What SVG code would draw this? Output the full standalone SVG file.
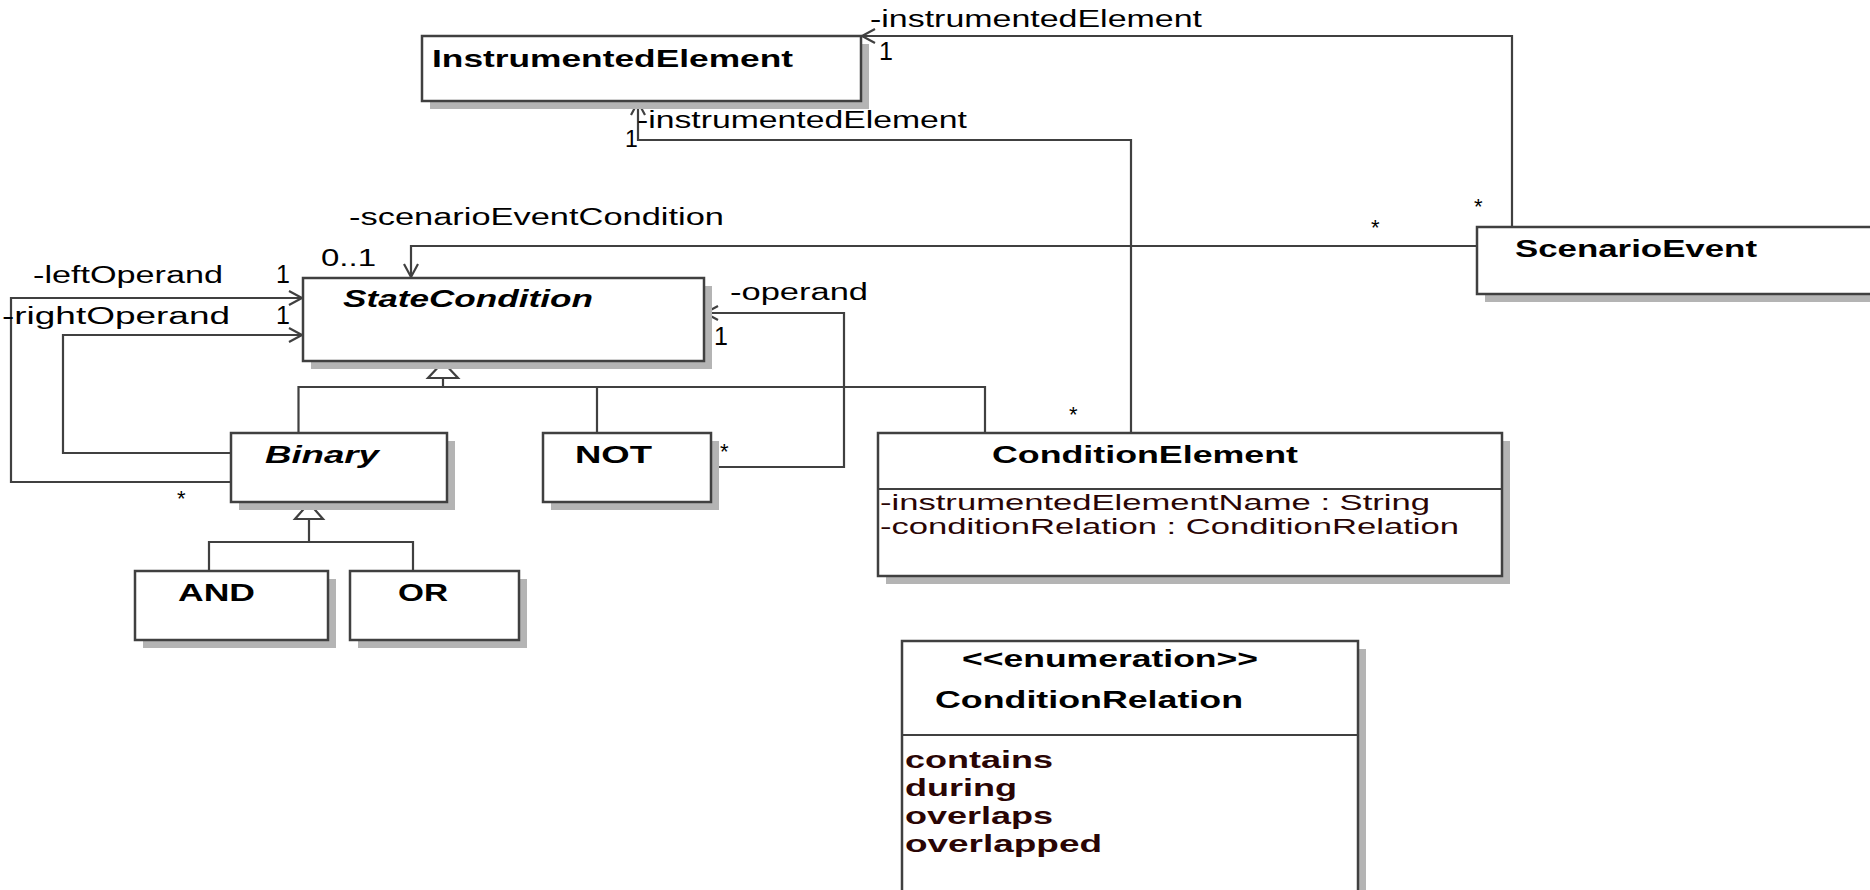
<svg xmlns="http://www.w3.org/2000/svg" width="1870" height="890" viewBox="0 0 1870 890">
<defs>
<style>
.box{fill:#fff;stroke:#404040;stroke-width:2.5}
.sh{fill:#b4b4b4}
.ln{fill:none;stroke:#404040;stroke-width:2.2}
.gen{fill:#fff;stroke:#404040;stroke-width:2.2}
.t{font-family:"Liberation Sans",Arial,sans-serif;font-size:23px;fill:#000}
.b{font-family:"Liberation Sans",Arial,sans-serif;font-size:23px;font-weight:bold;fill:#000}
.bi{font-style:italic}
.a{font-family:"Liberation Sans",Arial,sans-serif;font-size:22px;fill:#2a0505}
.lit{font-family:"Liberation Sans",Arial,sans-serif;font-size:23px;font-weight:bold;fill:#2a0505}
.st{font-family:"Liberation Sans",Arial,sans-serif;font-size:22px;fill:#000}
.one{font-family:"Liberation Sans",Arial,sans-serif;font-size:25px;fill:#000}
</style>
<marker id="arr" markerUnits="userSpaceOnUse" orient="auto" refX="0" refY="0" overflow="visible" markerWidth="14" markerHeight="14">
<path d="M-13,-7 L0,0 L-13,7" fill="none" stroke="#404040" stroke-width="2.2"/>
</marker>
</defs>
<rect width="1870" height="890" fill="#fff"/>

<g id="connectors">
<path class="ln" d="M1512,227 V36 H862" marker-end="url(#arr)"/>
<path class="ln" d="M1131,433 V140 H638 V102" marker-end="url(#arr)"/>
<path class="ln" d="M1477,246 H411 V277" marker-end="url(#arr)"/>
<path class="ln" d="M231,482 H11 V298 H302" marker-end="url(#arr)"/>
<path class="ln" d="M231,453 H63 V335 H302" marker-end="url(#arr)"/>
<path class="ln" d="M711,467 H844 V313 H705" marker-end="url(#arr)"/>
<path class="ln" d="M443,378 V387 M298.5,433 V387 H985 V433 M597,387 V433"/>
<polygon class="gen" points="443,362 428,378 458,378"/>
<path class="ln" d="M309,519 V542 M209,571 V542 H413 V571"/>
<polygon class="gen" points="309,503 295,519 323,519"/>
<text class="t" x="870" y="27" textLength="332" lengthAdjust="spacingAndGlyphs">-instrumentedElement</text>
<text class="one" x="879" y="60">1</text>
<text class="t" x="637" y="128" textLength="330" lengthAdjust="spacingAndGlyphs">-instrumentedElement</text>
<text class="t" x="625" y="147" font-size="21">1</text>
<text class="t" x="349" y="225" textLength="375" lengthAdjust="spacingAndGlyphs">-scenarioEventCondition</text>
<text class="t" x="321" y="266" textLength="55" lengthAdjust="spacingAndGlyphs">0..1</text>
<text class="t" x="33" y="283" textLength="190" lengthAdjust="spacingAndGlyphs">-leftOperand</text>
<text class="one" x="276" y="283">1</text>
<text class="t" x="2" y="324" textLength="228" lengthAdjust="spacingAndGlyphs">-rightOperand</text>
<text class="one" x="276" y="324">1</text>
<text class="t" x="730" y="300" textLength="138" lengthAdjust="spacingAndGlyphs">-operand</text>
<text class="one" x="714" y="345">1</text>
<text class="st" x="177" y="506">*</text>
<text class="st" x="720" y="459">*</text>
<text class="st" x="1069" y="422">*</text>
<text class="st" x="1371" y="235">*</text>
<text class="st" x="1474" y="214">*</text>
</g>

<g id="InstrumentedElement">
<rect class="sh" x="430" y="44" width="439" height="65"/>
<rect class="box" x="422" y="36" width="439" height="65"/>
<text class="b" x="432" y="67" textLength="361" lengthAdjust="spacingAndGlyphs">InstrumentedElement</text>
</g>

<g id="ScenarioEvent">
<rect class="sh" x="1485" y="235" width="420" height="67"/>
<rect class="box" x="1477" y="227" width="420" height="67"/>
<text class="b" x="1515" y="257" textLength="242" lengthAdjust="spacingAndGlyphs">ScenarioEvent</text>
</g>

<g id="StateCondition">
<rect class="sh" x="311" y="286" width="401" height="83"/>
<rect class="box" x="303" y="278" width="401" height="83"/>
<text class="b bi" x="343" y="307" textLength="250" lengthAdjust="spacingAndGlyphs">StateCondition</text>
</g>

<g id="Binary">
<rect class="sh" x="239" y="441" width="216" height="69"/>
<rect class="box" x="231" y="433" width="216" height="69"/>
<text class="b bi" x="265" y="463" textLength="114" lengthAdjust="spacingAndGlyphs">Binary</text>
</g>

<g id="NOT">
<rect class="sh" x="551" y="441" width="168" height="69"/>
<rect class="box" x="543" y="433" width="168" height="69"/>
<text class="b" x="575" y="463" textLength="77" lengthAdjust="spacingAndGlyphs">NOT</text>
</g>

<g id="AND">
<rect class="sh" x="143" y="579" width="193" height="69"/>
<rect class="box" x="135" y="571" width="193" height="69"/>
<text class="b" x="178" y="601" textLength="77" lengthAdjust="spacingAndGlyphs">AND</text>
</g>

<g id="OR">
<rect class="sh" x="358" y="579" width="169" height="69"/>
<rect class="box" x="350" y="571" width="169" height="69"/>
<text class="b" x="398" y="601" textLength="50" lengthAdjust="spacingAndGlyphs">OR</text>
</g>

<g id="ConditionElement">
<rect class="sh" x="886" y="441" width="624" height="143"/>
<rect class="box" x="878" y="433" width="624" height="143"/>
<line class="ln" x1="878" y1="489" x2="1502" y2="489" stroke-width="2.5"/>
<text class="b" x="992" y="463" textLength="306" lengthAdjust="spacingAndGlyphs">ConditionElement</text>
<text class="a" x="880" y="510" textLength="550" lengthAdjust="spacingAndGlyphs">-instrumentedElementName : String</text>
<text class="a" x="880" y="534" textLength="579" lengthAdjust="spacingAndGlyphs">-conditionRelation : ConditionRelation</text>
</g>

<g id="ConditionRelation">
<rect class="sh" x="910" y="649" width="456" height="260"/>
<rect class="box" x="902" y="641" width="456" height="260"/>
<line class="ln" x1="902" y1="735" x2="1358" y2="735" stroke-width="2.5"/>
<text class="b" x="962" y="667" textLength="296" lengthAdjust="spacingAndGlyphs">&lt;&lt;enumeration&gt;&gt;</text>
<text class="b" x="935" y="708" textLength="308" lengthAdjust="spacingAndGlyphs">ConditionRelation</text>
<text class="lit" x="905" y="768" textLength="148" lengthAdjust="spacingAndGlyphs">contains</text>
<text class="lit" x="905" y="796" textLength="112" lengthAdjust="spacingAndGlyphs">during</text>
<text class="lit" x="905" y="824" textLength="148" lengthAdjust="spacingAndGlyphs">overlaps</text>
<text class="lit" x="905" y="852" textLength="197" lengthAdjust="spacingAndGlyphs">overlapped</text>
</g>
</svg>
